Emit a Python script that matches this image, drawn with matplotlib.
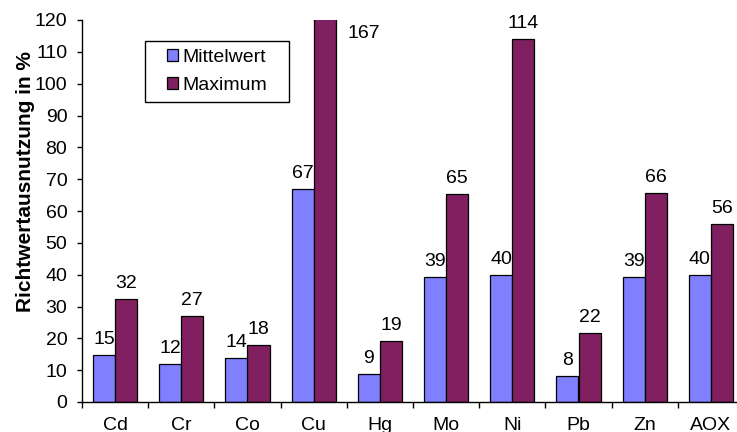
import numpy as np
import matplotlib.pyplot as plt
from matplotlib.patches import Rectangle
from matplotlib.ticker import FixedLocator

categories = ['Cd', 'Cr', 'Co', 'Cu', 'Hg', 'Mo', 'Ni', 'Pb', 'Zn', 'AOX']
mittelwert = [14.9, 11.8, 13.7, 66.8, 8.7, 39.2, 40.0, 8.1, 39.3, 40.0]
maximum = [32.4, 26.9, 18.0, 167.0, 19.3, 65.2, 113.9, 21.6, 65.6, 56.0]

blue = '#8080FF'
maroon = '#802060'
fs = 14

plt.rcParams['font.family'] = ['Liberation Sans', 'DejaVu Sans']

fig = plt.figure(figsize=(7.37, 4.32), dpi=100)
ax = fig.add_axes([82 / 737, 1 - 402 / 432, 662 / 737, 382 / 432])

x = np.arange(len(categories))
w = 1 / 3
ax.bar(x - w / 2, mittelwert, w, color=blue, edgecolor='black', linewidth=0.9, label='Mittelwert')
ax.bar(x + w / 2, maximum, w, color=maroon, edgecolor='black', linewidth=0.9, label='Maximum')

ax.set_xlim(-0.5, len(categories) - 0.5)
ax.set_ylim(0, 120)
ax.set_yticks(range(0, 121, 10))

# value labels
for i, v in enumerate(mittelwert):
    ax.text(x[i] - w / 2, v + 2.2, f'{v:.0f}', ha='center', va='bottom', fontsize=fs)
for i, v in enumerate(maximum):
    if v > 120:
        # bar runs off the top, label goes beside it
        ax.text(x[i] + 0.76, 115.7, f'{v:.0f}', ha='center', va='center', fontsize=fs)
    else:
        ax.text(x[i] + w / 2, v + 2.2, f'{v:.0f}', ha='center', va='bottom', fontsize=fs)

# x ticks: labels at centres, tick marks between groups
ax.set_xticks(x)
ax.set_xticklabels(categories)
ax.tick_params(axis='x', which='major', length=0, pad=11, labelsize=fs)
ax.xaxis.set_minor_locator(FixedLocator(np.arange(-0.5, len(categories), 1)))
ax.tick_params(axis='x', which='minor', length=4, width=1, direction='out')
ax.tick_params(axis='y', length=3.6, width=1, direction='out', labelsize=fs, pad=7)

for s in ['top', 'right']:
    ax.spines[s].set_visible(False)
for s in ['left', 'bottom']:
    ax.spines[s].set_linewidth(1)

ax.set_ylabel('Richtwertausnutzung in %', fontsize=15, fontweight='bold')
ax.yaxis.set_label_coords(-0.071, 0.578)

leg = ax.legend(loc='center', bbox_to_anchor=(0.204, 0.865), fontsize=fs,
                frameon=False, handlelength=0.57, handleheight=0.57,
                handletextpad=0.2, borderpad=0, labelspacing=0.55)
for h in leg.legend_handles:
    h.set_edgecolor('black')
    h.set_linewidth(0.9)
fig.patches.append(Rectangle((145 / 737, 1 - 102 / 432), 144 / 737, 61 / 432,
                             transform=fig.transFigure, fill=False,
                             edgecolor='black', linewidth=1))

fig.savefig('out.png', dpi=100)
